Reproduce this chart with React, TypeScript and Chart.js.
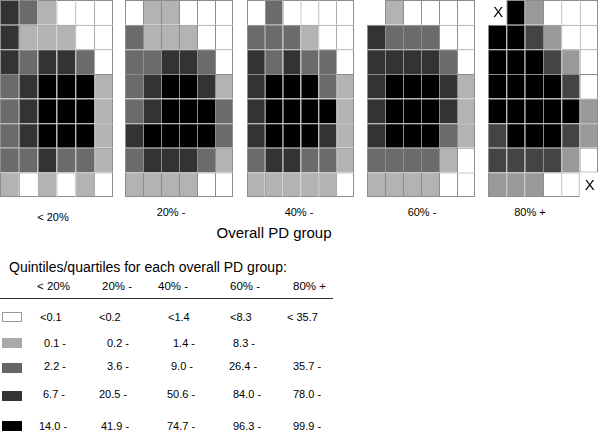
import React, { useEffect, useRef } from 'react';
import { Chart, registerables } from 'chart.js';

Chart.register(...registerables);

// ---------- DATA ----------
// Cell levels: 0 = lowest quintile (white) ... 4 = highest (black); -1 = no cell; -2 = no cell, marked "X"
const PANEL_LABELS = ['< 20%', '20% -', '40% -', '60% -', '80% +'];

const GRID_LT20: number[][] = [
  [3, 2, 1, 0, 0, 0],
  [3, 1, 1, 1, 0, 0],
  [3, 2, 3, 3, 2, 0],
  [2, 3, 4, 4, 4, 1],
  [2, 3, 4, 4, 4, 1],
  [2, 3, 4, 4, 4, 1],
  [2, 2, 3, 2, 2, 1],
  [1, 0, 1, 0, 1, 0],
];
const GRID_20: number[][] = [
  [0, 1, 1, 0, 0, 0],
  [2, 1, 1, 1, 0, 0],
  [2, 2, 3, 3, 2, 0],
  [2, 3, 4, 4, 3, 1],
  [2, 3, 4, 4, 4, 2],
  [3, 4, 4, 4, 4, 2],
  [2, 3, 3, 3, 2, 1],
  [1, 1, 1, 1, 0, 0],
];
const GRID_40: number[][] = [
  [0, 2, 0, 0, 0, 0],
  [2, 2, 2, 1, 0, 0],
  [3, 2, 3, 2, 2, 0],
  [3, 4, 4, 4, 2, 1],
  [3, 4, 4, 4, 4, 1],
  [3, 4, 4, 4, 3, 1],
  [2, 3, 3, 2, 2, 1],
  [1, 1, 1, 1, 1, 0],
];
const GRID_60: number[][] = [
  [-1, 1, 0, 0, 0, 0],
  [3, 2, 2, 2, 0, 0],
  [3, 3, 3, 3, 2, 0],
  [3, 4, 4, 4, 3, 1],
  [3, 4, 4, 4, 3, 1],
  [3, 4, 4, 4, 2, 1],
  [2, 2, 2, 2, 1, 0],
  [1, 1, 1, 1, 0, 0],
];
// quartiles: 0 white, 1 "35.7 -", 3 "78.0 -", 4 "99.9 -"
const GRID_80: number[][] = [
  [-2, 4, 1, 0, 0, 0],
  [4, 4, 3, 1, 0, 0],
  [4, 4, 4, 3, 1, 0],
  [4, 4, 4, 4, 3, 0],
  [4, 4, 4, 4, 4, 1],
  [3, 4, 4, 4, 3, 1],
  [3, 3, 3, 3, 1, 0],
  [1, 1, 1, 0, 0, -2],
];

const LEGEND_TITLE = 'Quintiles/quartiles for each overall PD group:';
const LEGEND_HEADERS = ['< 20%', '20% -', '40% -', '60% -', '80% +'];
const Q_LT20 = ['<0.1', '0.1 -', '2.2 -', '6.7 -', '14.0 -'];
const Q_20 = ['<0.2', '0.2 -', '3.6 -', '20.5 -', '41.9 -'];
const Q_40 = ['<1.4', '1.4 -', '9.0 -', '50.6 -', '74.7 -'];
const Q_60 = ['<8.3', '8.3 -', '26.4 -', '84.0 -', '96.3 -'];
const Q_80 = ['< 35.7', '', '35.7 -', '78.0 -', '99.9 -'];
const AXIS_TITLE = 'Overall PD group';

// ---------- STYLE / LAYOUT ----------
const GRIDS = [GRID_LT20, GRID_20, GRID_40, GRID_60, GRID_80];
const QUANTS = [Q_LT20, Q_20, Q_40, Q_60, Q_80];
const COLORS_Q = ['#ffffff', '#b3b3b3', '#6b6b6b', '#333333', '#000000'];
const COLORS_4 = ['#ffffff', '#999999', '#6b6b6b', '#444444', '#000000'];
const PANEL_COLORS = [COLORS_Q, COLORS_Q, COLORS_Q, COLORS_Q, COLORS_4];
const PANEL_BOX = [
  { left: 0, width: 113 },
  { left: 125, width: 108 },
  { left: 247, width: 107 },
  { left: 367, width: 108 },
  { left: 488, width: 110 },
];
const PANEL_TOP = 0;
const PANEL_H = 197;
const PANEL_LABEL_POS = [
  [53, 217],
  [171, 212],
  [299, 212],
  [422, 212],
  [530, 212],
];
const SWATCH_COLORS = ['#ffffff', '#aaaaaa', '#666666', '#333333', '#000000'];
const SWATCH_TOPS = [312, 338, 363, 391, 421];
const ROW_Y = [317, 343, 366, 394, 426];
const COL_X = [
  [40, 44, 44, 43, 39],
  [99, 107, 107, 99, 101],
  [168, 173, 171, 167, 167],
  [230, 233, 229, 233, 233],
  [287, 0, 293, 293, 293],
];
const HEADER_X = [37, 102, 158, 230, 293];
const FONT = '"Liberation Sans", Arial, Helvetica, sans-serif';

const xMarkPlugin = {
  id: 'xMarks',
  afterDatasetsDraw(chart: any) {
    const grid: number[][] = chart.options.plugins.xMarks?.grid;
    if (!grid) return;
    const { ctx, scales } = chart;
    const rows = grid.length;
    ctx.save();
    ctx.fillStyle = '#000';
    ctx.font = `15px ${FONT}`;
    ctx.textAlign = 'center';
    ctx.textBaseline = 'middle';
    grid.forEach((row, r) => {
      row.forEach((v, c) => {
        if (v === -2) {
          const x = scales.x.getPixelForValue(c);
          const y = (scales.y.getPixelForValue(rows - r) + scales.y.getPixelForValue(rows - r - 1)) / 2;
          ctx.fillText('X', x + 1, y + 1);
        }
      });
    });
    ctx.restore();
  },
};

function Panel({ idx }: { idx: number }) {
  const ref = useRef<HTMLCanvasElement>(null);
  const grid = GRIDS[idx];
  const colors = PANEL_COLORS[idx];
  const box = PANEL_BOX[idx];
  useEffect(() => {
    if (!ref.current) return;
    const rows = grid.length;
    const cols = grid[0].length;
    const datasets: any[] = [];
    for (let d = 0; d < rows; d++) {
      const r = rows - 1 - d;
      datasets.push({
        data: grid[r].map(() => 1),
        backgroundColor: grid[r].map((v) => (v < 0 ? 'rgba(0,0,0,0)' : colors[v])),
        borderColor: '#8c8c8c',
        borderWidth: (ctx: any) => {
          const c = ctx.dataIndex;
          const v = grid[r][c];
          if (v < 0) return 0;
          const right = c === cols - 1 || grid[r][c + 1] < 0 ? 1 : 0;
          const bottom = r === rows - 1 || grid[r + 1][c] < 0 ? 1 : 0;
          return { left: 1, top: 1, right, bottom };
        },
        borderSkipped: false,
        inflateAmount: 0,
        categoryPercentage: 1,
        barPercentage: 1,
        stack: 'g',
      });
    }
    const chart = new Chart(ref.current, {
      type: 'bar',
      data: { labels: grid[0].map((_, i) => String(i + 1)), datasets },
      options: {
        animation: false,
        responsive: false,
        devicePixelRatio: 1,
        layout: { padding: 0 },
        scales: {
          x: { stacked: true, display: false },
          y: { stacked: true, display: false, min: 0, max: rows },
        },
        plugins: {
          legend: { display: false },
          tooltip: { enabled: false },
          xMarks: { grid },
        } as any,
      },
      plugins: [xMarkPlugin],
    });
    return () => chart.destroy();
  }, []);
  return (
    <canvas
      ref={ref}
      width={box.width}
      height={PANEL_H}
      style={{ position: 'absolute', left: box.left, top: PANEL_TOP, width: box.width, height: PANEL_H }}
    />
  );
}

function T({ x, y, text, size = 11, center = false }: { x: number; y: number; text: string; size?: number; center?: boolean }) {
  return (
    <span
      style={{
        position: 'absolute',
        left: x,
        top: y,
        transform: center ? 'translate(-50%, -50%)' : 'translateY(-50%)',
        fontFamily: FONT,
        fontSize: size,
        lineHeight: 1,
        whiteSpace: 'nowrap',
        color: '#000',
      }}
    >
      {text}
    </span>
  );
}

export default function App() {
  return (
    <div style={{ position: 'absolute', left: 0, top: 0, width: 600, height: 435, background: '#fff', overflow: 'hidden' }}>
      {GRIDS.map((_, i) => (
        <Panel key={i} idx={i} />
      ))}
      {PANEL_LABELS.map((l, i) => (
        <T key={'pl' + i} x={PANEL_LABEL_POS[i][0]} y={PANEL_LABEL_POS[i][1]} text={l} center />
      ))}
      <T x={274} y={232} text={AXIS_TITLE} size={15} center />
      <T x={9} y={267} text={LEGEND_TITLE} size={14} />
      {LEGEND_HEADERS.map((h, i) => (
        <T key={'h' + i} x={HEADER_X[i]} y={287} text={h} size={11.5} />
      ))}
      <div style={{ position: 'absolute', left: 0, top: 298, width: 333, height: 1, background: '#333' }} />
      {SWATCH_COLORS.map((c, k) => (
        <div
          key={'s' + k}
          style={{
            position: 'absolute',
            left: 2,
            top: SWATCH_TOPS[k],
            width: 20,
            height: 10,
            boxSizing: 'border-box',
            background: c,
            border: k === 0 ? '1px solid #999' : `1px solid ${c}`,
          }}
        />
      ))}
      {QUANTS.map((col, g) =>
        col.map((t, k) => (t ? <T key={`q${g}-${k}`} x={COL_X[g][k]} y={ROW_Y[k]} text={t} size={11} /> : null))
      )}
    </div>
  );
}
